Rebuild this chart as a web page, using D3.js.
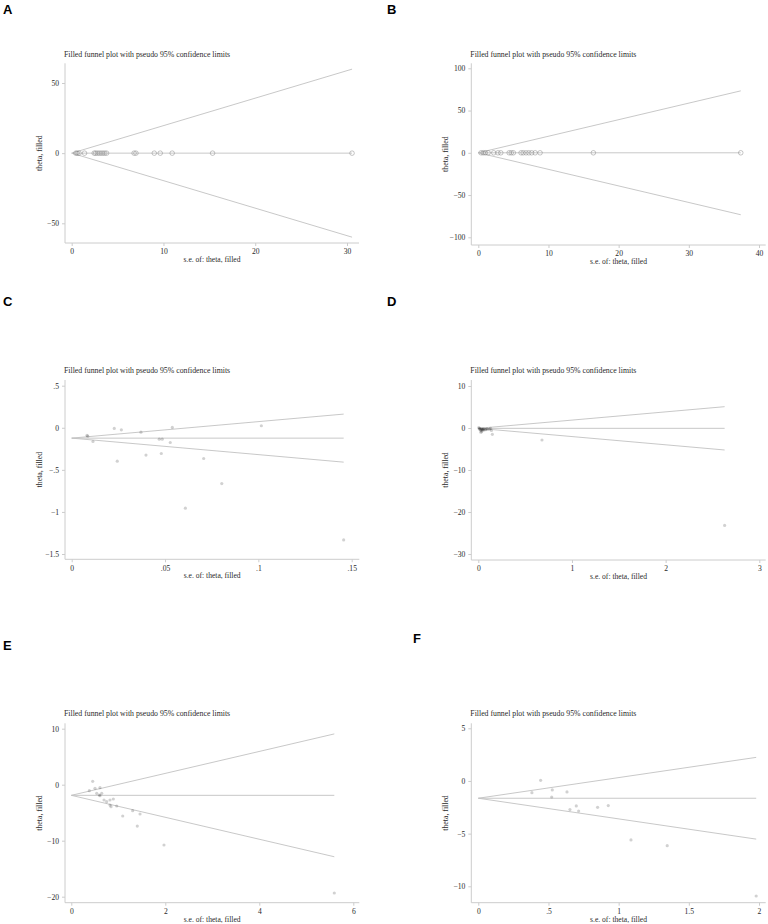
<!DOCTYPE html>
<html>
<head>
<meta charset="utf-8">
<script src="https://cdn.jsdelivr.net/npm/d3@7"></script>
<style>
  body { margin: 0; background: #fff; }
  svg text { font-family: "Liberation Serif", "Times New Roman", serif; }
</style>
</head>
<body>
<div id="chart"></div>
<script>
// ---- data ----
const panelNames = ['A', 'B', 'C', 'D', 'E', 'F'];
const plotTitle = 'Filled funnel plot with pseudo 95% confidence limits';
const xTitle = 's.e. of: theta, filled';
const yTitle = 'theta, filled';

const aSe = [0.45, 0.6, 0.8, 1.4, 2.45, 2.6, 2.8, 3.0, 3.2, 3.4, 3.6, 3.8, 6.8, 7.0, 9.0, 9.65, 10.95, 15.35, 30.55];
const aTheta = [0, 0, 0, 0, 0, 0, 0, 0, 0, 0, 0, 0, 0, 0, 0, 0, 0, 0, 0];
const aPooled = 0;

const bSe = [0.4, 0.7, 1.0, 1.4, 2.2, 2.8, 3.2, 4.4, 4.7, 5.0, 6.1, 6.4, 6.8, 7.2, 7.6, 8.1, 8.8, 16.4, 37.4];
const bTheta = [0, 0, 0, 0, 0, 0, 0, 0, 0, 0, 0, 0, 0, 0, 0, 0, 0, 0, 0];
const bPooled = 0;

const cSe = [0.0082, 0.0086, 0.0114, 0.0228, 0.0266, 0.0244, 0.0371, 0.0398, 0.0469, 0.0485, 0.048, 0.0528, 0.0539, 0.0707, 0.0609, 0.0804, 0.1016, 0.1457];
const cTheta = [-0.09, -0.1, -0.163, -0.008, -0.024, -0.397, -0.052, -0.325, -0.135, -0.135, -0.306, -0.175, 0.004, -0.365, -0.956, -0.663, 0.024, -1.333];
const cPooled = -0.123;

const dSe = [0.005, 0.01, 0.015, 0.02, 0.025, 0.03, 0.035, 0.04, 0.045, 0.05, 0.055, 0.06, 0.07, 0.08, 0.09, 0.1, 0.026, 0.036, 0.12, 0.13, 0.14, 0.15, 0.68, 2.63];
const dTheta = [0.1, -0.2, -0.1, -0.4, -0.3, -0.6, -0.2, -0.5, -0.3, -0.4, -0.2, -0.5, -0.3, -0.4, -0.2, -0.3, -1.0, -0.9, -0.3, -0.07, -0.6, -1.5, -2.86, -23.2];
const dPooled = -0.08;

const eSe = [0.455, 0.383, 0.504, 0.61, 0.54, 0.61, 0.647, 0.596, 0.696, 0.753, 0.823, 0.894, 0.823, 0.845, 0.966, 1.094, 1.306, 1.462, 1.404, 1.972, 5.596];
const eTheta = [0.61, -1.07, -0.64, -0.54, -1.54, -1.96, -1.54, -1.84, -2.73, -3.04, -2.73, -2.55, -3.63, -3.93, -3.8, -5.59, -4.64, -5.23, -7.38, -10.77, -19.34];
const ePooled = -1.9;

const fSe = [0.382, 0.444, 0.527, 0.523, 0.632, 0.653, 0.698, 0.715, 0.85, 0.926, 1.088, 1.346, 1.98];
const fTheta = [-1.11, 0.06, -0.85, -1.52, -1.04, -2.72, -2.37, -2.85, -2.5, -2.34, -5.6, -6.14, -10.92];
const fPooled = -1.64;

// tick values and their Stata-style labels
const aXTicks = [0, 10, 20, 30];
const aXLabels = ['0', '10', '20', '30'];
const aYTicks = [-50, 0, 50];
const aYLabels = ['\u221250', '0', '50'];

const bXTicks = [0, 10, 20, 30, 40];
const bXLabels = ['0', '10', '20', '30', '40'];
const bYTicks = [-100, -50, 0, 50, 100];
const bYLabels = ['\u2212100', '\u221250', '0', '50', '100'];

const cXTicks = [0, 0.05, 0.1, 0.15];
const cXLabels = ['0', '.05', '.1', '.15'];
const cYTicks = [-1.5, -1, -0.5, 0, 0.5];
const cYLabels = ['\u22121.5', '\u22121', '\u2212.5', '0', '.5'];

const dXTicks = [0, 1, 2, 3];
const dXLabels = ['0', '1', '2', '3'];
const dYTicks = [-30, -20, -10, 0, 10];
const dYLabels = ['\u221230', '\u221220', '\u221210', '0', '10'];

const eXTicks = [0, 2, 4, 6];
const eXLabels = ['0', '2', '4', '6'];
const eYTicks = [-20, -10, 0, 10];
const eYLabels = ['\u221220', '\u221210', '0', '10'];

const fXTicks = [0, 0.5, 1, 1.5, 2];
const fXLabels = ['0', '.5', '1', '1.5', '2'];
const fYTicks = [-10, -5, 0, 5];
const fYLabels = ['\u221210', '\u22125', '0', '5'];

// ---- layout (pixel geometry of each panel) ----
const W = 768;
const H = 924;

const layouts = [
  {label: [3, 14], titleY: 54, box: {l: 65, r: 359, t: 63.3, b: 243}, xr: [71.7, 347], yr: [223.3, 83]},
  {label: [387, 14], titleY: 54, box: {l: 471.3, r: 765.7, t: 63.3, b: 245}, xr: [478.3, 759], yr: [237.3, 68.3]},
  {label: [3, 306], titleY: 370.7, box: {l: 65, r: 359.3, t: 380, b: 559.3}, xr: [71.7, 351.7], yr: [554, 385.7]},
  {label: [387, 306], titleY: 370.7, box: {l: 471.3, r: 765.7, t: 380, b: 560}, xr: [478.3, 759.3], yr: [554, 386]},
  {label: [3, 650], titleY: 713.3, box: {l: 65, r: 359.3, t: 723.3, b: 902.7}, xr: [71.3, 353.3], yr: [896.7, 728.7]},
  {label: [413, 643], titleY: 713.3, box: {l: 471.3, r: 765.7, t: 723.3, b: 902.7}, xr: [478.3, 759], yr: [886.3, 728.3]},
];

const panels = [
  {se: aSe, theta: aTheta, pooled: aPooled, xt: aXTicks, xl: aXLabels, yt: aYTicks, yl: aYLabels, hollow: true},
  {se: bSe, theta: bTheta, pooled: bPooled, xt: bXTicks, xl: bXLabels, yt: bYTicks, yl: bYLabels, hollow: true},
  {se: cSe, theta: cTheta, pooled: cPooled, xt: cXTicks, xl: cXLabels, yt: cYTicks, yl: cYLabels, hollow: false},
  {se: dSe, theta: dTheta, pooled: dPooled, xt: dXTicks, xl: dXLabels, yt: dYTicks, yl: dYLabels, hollow: false},
  {se: eSe, theta: eTheta, pooled: ePooled, xt: eXTicks, xl: eXLabels, yt: eYTicks, yl: eYLabels, hollow: false},
  {se: fSe, theta: fTheta, pooled: fPooled, xt: fXTicks, xl: fXLabels, yt: fYTicks, yl: fYLabels, hollow: false},
];

const TEXT = '#2a2a2a';
const AXIS = '#cccccc';
const FUNNEL = '#c2c2c2';

const svg = d3
  .select('#chart')
  .append('svg')
  .attr('width', W)
  .attr('height', H);

svg.append('rect').attr('width', W).attr('height', H).attr('fill', '#fff');

const drawPanel = (p, lay, name) => {
  const {box} = lay;
  const x = d3.scaleLinear().domain([p.xt[0], p.xt[p.xt.length - 1]]).range(lay.xr);
  const y = d3.scaleLinear().domain([p.yt[0], p.yt[p.yt.length - 1]]).range(lay.yr);

  const g = svg.append('g');

  // panel letter
  svg
    .append('text')
    .attr('x', lay.label[0])
    .attr('y', lay.label[1])
    .style('font-family', '"Liberation Sans", Arial, sans-serif')
    .style('font-weight', 'bold')
    .style('font-size', '13px')
    .attr('fill', '#000')
    .text(name);

  // title
  g.append('text')
    .attr('x', box.l - 1)
    .attr('y', lay.titleY + 2.7)
    .attr('font-size', 7.8)
    .attr('fill', TEXT)
    .text(plotTitle);

  // axes
  const xAxis = d3
    .axisBottom(x)
    .tickValues(p.xt)
    .tickFormat((d, i) => p.xl[i])
    .tickSize(3)
    .tickPadding(3);
  const yAxis = d3
    .axisLeft(y)
    .tickValues(p.yt)
    .tickFormat((d, i) => p.yl[i])
    .tickSize(3)
    .tickPadding(3);

  const gx = g.append('g').attr('transform', `translate(0,${box.b})`).call(xAxis);
  const gy = g.append('g').attr('transform', `translate(${box.l},0)`).call(yAxis);
  [gx, gy].forEach(a => {
    a.select('.domain').remove();
    a.attr('font-family', null).attr('font-size', 7.6);
    a.selectAll('line').attr('stroke', AXIS);
    a.selectAll('text').attr('fill', TEXT);
  });

  g.append('line')
    .attr('x1', box.l)
    .attr('x2', box.r)
    .attr('y1', box.b)
    .attr('y2', box.b)
    .attr('stroke', AXIS);
  g.append('line')
    .attr('x1', box.l)
    .attr('x2', box.l)
    .attr('y1', box.t)
    .attr('y2', box.b)
    .attr('stroke', AXIS);

  g.append('text')
    .attr('x', (box.l + box.r) / 2)
    .attr('y', box.b + 19)
    .attr('text-anchor', 'middle')
    .attr('font-size', 7.6)
    .attr('fill', TEXT)
    .text(xTitle);

  g.append('text')
    .attr('transform', `translate(${box.l - 26 + 2.6},${(box.t + box.b) / 2}) rotate(-90)`)
    .attr('text-anchor', 'middle')
    .attr('font-size', 7.8)
    .attr('fill', TEXT)
    .text(yTitle);

  // pooled estimate and pseudo 95% limits
  const maxSe = d3.max(p.se);
  const line = d3
    .line()
    .x(d => x(d[0]))
    .y(d => y(d[1]));
  const funnel = [
    [[0, p.pooled], [maxSe, p.pooled + 1.96 * maxSe]],
    [[0, p.pooled], [maxSe, p.pooled - 1.96 * maxSe]],
    [[0, p.pooled], [maxSe, p.pooled]],
  ];
  g.selectAll('path.funnel')
    .data(funnel)
    .join('path')
    .attr('class', 'funnel')
    .attr('d', line)
    .attr('fill', 'none')
    .attr('stroke', FUNNEL)
    .attr('stroke-width', 0.9);

  // studies
  const pts = p.se.map((s, i) => ({s, t: p.theta[i]}));
  const dots = g
    .selectAll('circle')
    .data(pts)
    .join('circle')
    .attr('cx', d => x(d.s))
    .attr('cy', d => y(d.t));
  if (p.hollow) {
    dots.attr('r', 2.3).attr('fill', 'none').attr('stroke', '#777').attr('stroke-opacity', 0.6).attr('stroke-width', 0.7);
  } else {
    dots.attr('r', 1.6).attr('fill', '#000').attr('fill-opacity', 0.18).attr('stroke', 'none');
  }
};

panels.forEach((p, i) => drawPanel(p, layouts[i], panelNames[i]));
</script>
</body>
</html>
